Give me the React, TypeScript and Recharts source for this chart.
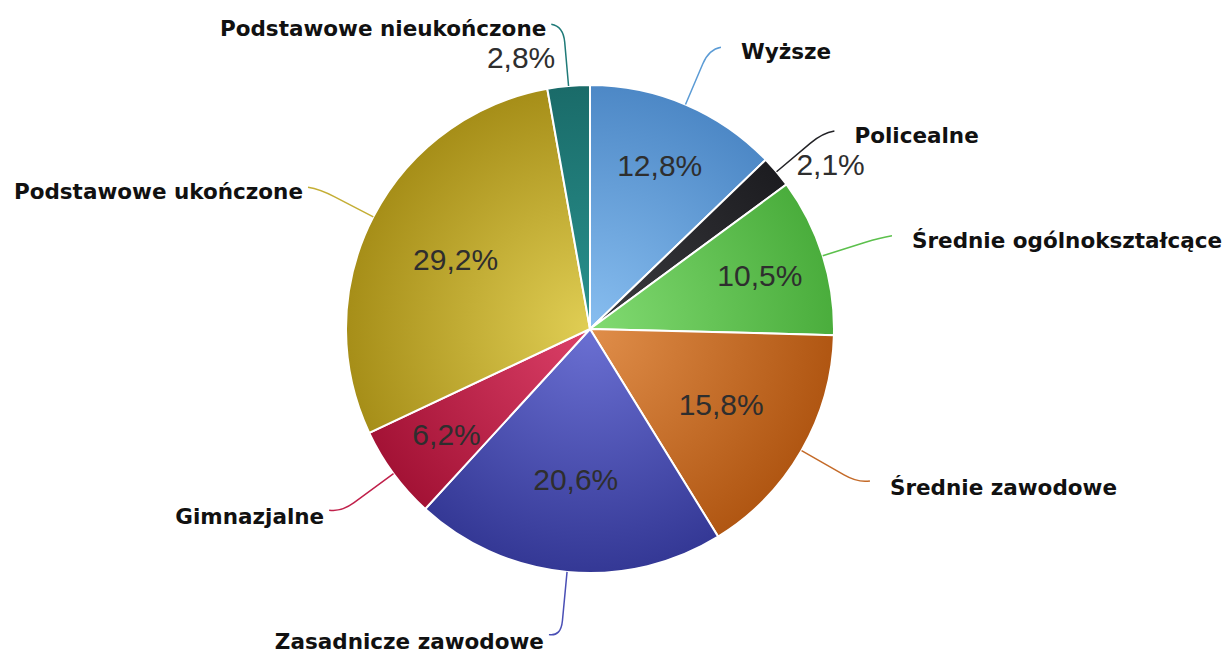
import React from 'react';
import { PieChart, Pie, Cell } from 'recharts';

// Wykształcenie – udział procentowy
const categories = [
  'Wyższe',
  'Policealne',
  'Średnie ogólnokształcące',
  'Średnie zawodowe',
  'Zasadnicze zawodowe',
  'Gimnazjalne',
  'Podstawowe ukończone',
  'Podstawowe nieukończone',
];
const shares = [12.8, 2.1, 10.5, 15.8, 20.6, 6.2, 29.2, 2.8];

const lightColors = ['#88bef0', '#3c3c40', '#82db72', '#e08e4a', '#6b70d3', '#dc4068', '#e0ce54', '#29928e'];
const darkColors = ['#4d88c6', '#1c1c20', '#4aad3c', '#b05612', '#343895', '#a31235', '#a68e18', '#1a6b69'];
const lineColors = ['#5b9bd5', '#222226', '#5cc04c', '#c46a28', '#4a4fb5', '#c0204a', '#c4ae35', '#1f7a78'];

const data = categories.map((name, i) => ({ name, value: shares[i] }));

const CX = 590;
const CY = 329;
const R = 244;

const fmt = (v: number) => v.toFixed(1).replace('.', ',') + '%';

const renderLabel = (props: any) => {
  const { cx, cy, midAngle, outerRadius, index, value } = props;
  const rad = (-midAngle * Math.PI) / 180;
  const cos = Math.cos(rad);
  const sin = Math.sin(rad);
  const right = cos >= 0;

  const sx = cx + outerRadius * cos;
  const sy = cy + outerRadius * sin;
  const er = outerRadius + 60 + (sin > 0 ? 5 : 0);
  const ex = cx + er * cos;
  const ey = cy + er * sin;
  const mr = er - 16;
  const mx = cx + mr * cos;
  const my = cy + mr * sin;
  const hx = ex + (right ? 12 : -12);
  const hy = ey - 2;

  const outside = value < 3;
  const pr = outerRadius * (value < 14 ? 0.73 : 0.62);
  const px = outside ? (right ? ex - 26 : ex - 8) : cx + pr * cos;
  const py = outside ? ey + 31 : cy + pr * sin;

  return (
    <g>
      <path
        d={`M${sx},${sy} L${mx},${my} Q${ex},${ey} ${hx},${hy}`}
        stroke={lineColors[index]}
        strokeWidth={1.5}
        fill="none"
      />
      <text
        x={right ? hx + 20 : hx - 5}
        y={hy + 12 + (sin > 0 ? 2 : 0)}
        textAnchor={right ? 'start' : 'end'}
        fontFamily="DejaVu Sans, sans-serif"
        fontWeight="bold"
        fontSize={21.5}
        fill="#111"
      >
        {categories[index]}
      </text>
      <text
        x={px}
        y={py}
        textAnchor={outside ? (right ? 'start' : 'end') : 'middle'}
        dominantBaseline="central"
        fontFamily="Liberation Sans, Arial, sans-serif"
        fontSize={30}
        fill="#2e2e2e"
      >
        {fmt(value)}
      </text>
    </g>
  );
};

export default function App() {
  return (
    <div style={{ position: 'absolute', left: 0, top: 0, background: '#fff' }}>
      <PieChart width={1229} height={653} margin={{ top: 0, right: 0, bottom: 0, left: 0 }}>
        <defs>
          {categories.map((c, i) => (
            <radialGradient
              key={c}
              id={`grad-${i}`}
              gradientUnits="userSpaceOnUse"
              cx={CX}
              cy={CY}
              r={R}
            >
              <stop offset="0%" stopColor={lightColors[i]} />
              <stop offset="100%" stopColor={darkColors[i]} />
            </radialGradient>
          ))}
        </defs>
        <Pie
          data={data}
          dataKey="value"
          nameKey="name"
          cx={CX}
          cy={CY}
          outerRadius={R}
          startAngle={90}
          endAngle={-270}
          stroke="#fff"
          strokeWidth={2}
          label={renderLabel}
          labelLine={false}
          isAnimationActive={false}
        >
          {data.map((entry, idx) => (
            <Cell key={`cell-${idx}`} fill={`url(#grad-${idx})`} />
          ))}
        </Pie>
      </PieChart>
    </div>
  );
}
